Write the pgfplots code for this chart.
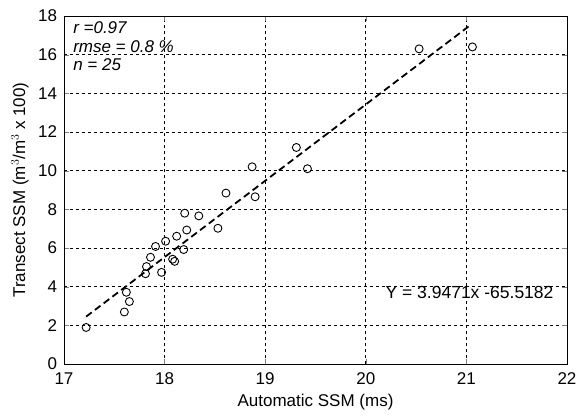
\documentclass[border=0pt]{standalone}
\usepackage{fontspec}
\setmainfont{Liberation Sans}
\usepackage{pgfplots}
\pgfplotsset{compat=1.18}
\begin{document}
\fontsize{17bp}{20bp}\selectfont
\begin{tikzpicture}
\begin{axis}[
  scale only axis,
  width=503bp, height=348bp,
  xmin=17, xmax=22, ymin=0, ymax=18,
  xtick={17,18,...,22}, ytick={0,2,...,18},
  /pgf/number format/assume math mode=true,
  tick align=inside, major tick length=5bp,
  grid=major,
  major grid style={black, dash pattern=on 3bp off 3bp, line width=0.7bp},
  axis line style={line width=0.8bp},
  xlabel={Automatic SSM (ms)},
  ylabel={Transect SSM (m$^3$/m$^3$ x 100)},
  xticklabel style={yshift=-3bp},
  yticklabel style={xshift=-1bp},
  xlabel style={yshift=2bp},
  ylabel style={yshift=-2bp},
  clip=false,
]
% regression line Y = 3.9471x - 65.5182
\addplot[black, line width=1.8bp, dash pattern=on 7bp off 4bp] coordinates {(17.22,2.45) (21.05,17.57)};
\addplot[only marks, mark=o, mark size=4bp, mark options={line width=0.9bp, black}] coordinates {
(17.22,1.89) (17.60,2.69) (17.62,3.71) (17.65,3.23) (17.81,4.67)
(17.82,5.04) (17.86,5.52) (17.91,6.08) (17.97,4.74) (18.01,6.35)
(18.08,5.42) (18.10,5.31) (18.12,6.61) (18.19,5.92) (18.20,7.80)
(18.22,6.93) (18.34,7.66) (18.53,7.02) (18.61,8.84) (18.90,8.65)
(18.87,10.20) (19.31,11.20) (19.42,10.10) (20.53,16.30) (21.06,16.40)
};
\node[anchor=west, inner sep=0pt, font=\itshape] at (axis cs:17.09,17.39) {r =0.97};
\node[anchor=west, inner sep=0pt, font=\itshape] at (axis cs:17.09,16.44) {rmse = 0.8 \%};
\node[anchor=west, inner sep=0pt, font=\itshape] at (axis cs:17.09,15.46) {n = 25};
\node[anchor=west, inner sep=0pt, font=\fontsize{17.5bp}{20bp}\selectfont] at (axis cs:20.195,3.68) {Y = 3.9471x -65.5182};
\coordinate (ll) at (rel axis cs:0,0);
\coordinate (ur) at (rel axis cs:1,1);
\end{axis}
\pgfresetboundingbox
\path[use as bounding box] ([xshift=-64bp,yshift=-55bp]ll) rectangle ([xshift=16bp,yshift=16bp]ur);
\end{tikzpicture}
\end{document}
